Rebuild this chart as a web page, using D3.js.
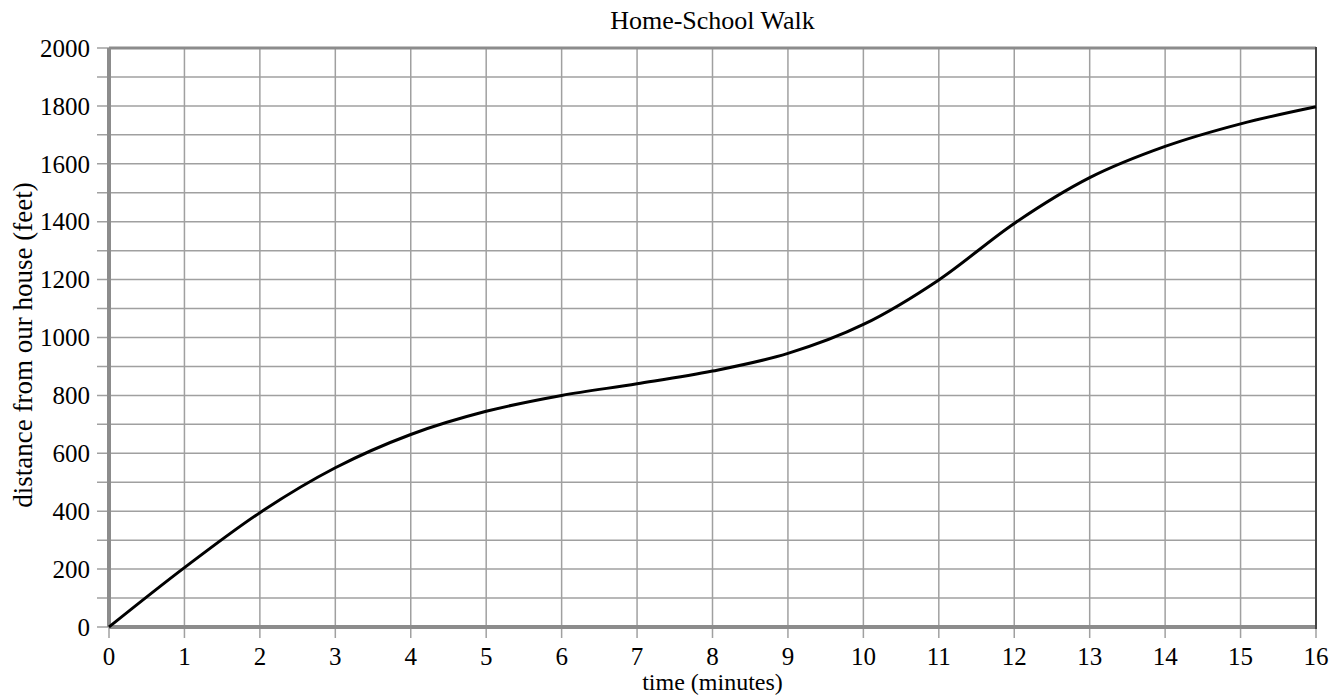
<!DOCTYPE html>
<html>
<head>
<meta charset="utf-8">
<script src="https://cdn.jsdelivr.net/npm/d3@7"></script>
<style>
  body { margin: 0; background: #fff; }
  svg { display: block; font-family: "Liberation Serif", "Times New Roman", serif; }
</style>
</head>
<body>
<svg width="1332" height="697"></svg>
<script>
// readings, one per minute
var minutes = [0, 1, 2, 3, 4, 5, 6, 7, 8, 9, 10, 11, 12, 13, 14, 15, 16];
var feet = [0, 205, 395, 550, 665, 745, 800, 840, 884, 945, 1045, 1199, 1394, 1552, 1660, 1738, 1797];
var xTicks = d3.range(0, 17, 1);
var yGrid = d3.range(0, 2001, 100);
var yLabels = d3.range(0, 2001, 200);

var svg = d3.select("svg"),
    margin = {top: 48, right: 16, bottom: 70, left: 109},
    width = svg.attr("width") - margin.left - margin.right,
    height = svg.attr("height") - margin.top - margin.bottom;

var x = d3.scaleLinear().domain([0, 16]).range([0, width]),
    y = d3.scaleLinear().domain([0, 2000]).range([height, 0]);

var g = svg.append("g")
  .attr("transform", "translate(" + margin.left + "," + margin.top + ")");

// grid lines, running a bit outside the frame as tick marks
g.append("g").selectAll("line").data(yGrid).enter().append("line")
  .attr("x1", -12).attr("x2", width)
  .attr("y1", function(d) { return y(d); }).attr("y2", function(d) { return y(d); })
  .attr("stroke", "#a0a0a0").attr("stroke-width", 1.5);

g.append("g").selectAll("line").data(xTicks).enter().append("line")
  .attr("y1", 0).attr("y2", height + 11)
  .attr("x1", function(d) { return x(d); }).attr("x2", function(d) { return x(d); })
  .attr("stroke", "#a0a0a0").attr("stroke-width", 1.5);

// frame
g.append("line").attr("x1", 0).attr("x2", width).attr("y1", 0).attr("y2", 0)
  .attr("stroke", "#8c8c8c").attr("stroke-width", 3);
g.append("line").attr("x1", 0).attr("x2", 0).attr("y1", 0).attr("y2", height)
  .attr("stroke", "#8c8c8c").attr("stroke-width", 4);
g.append("line").attr("x1", 0).attr("x2", width).attr("y1", height).attr("y2", height)
  .attr("stroke", "#8c8c8c").attr("stroke-width", 4);
g.append("line").attr("x1", width).attr("x2", width).attr("y1", -1).attr("y2", height + 2)
  .attr("stroke", "#444").attr("stroke-width", 2);

// tick labels
g.append("g").selectAll("text").data(yLabels).enter().append("text")
  .attr("x", -19).attr("y", function(d) { return y(d); })
  .attr("dy", "0.35em")
  .attr("text-anchor", "end")
  .style("font-size", "25px")
  .text(function(d) { return d; });

g.append("g").selectAll("text").data(xTicks).enter().append("text")
  .attr("x", function(d) { return x(d); }).attr("y", height + 38)
  .attr("text-anchor", "middle")
  .style("font-size", "25px")
  .text(function(d) { return d; });

// the walk
var line = d3.line()
  .x(function(d, i) { return x(minutes[i]); })
  .y(function(d) { return y(d); })
  .curve(d3.curveMonotoneX);

g.append("path")
  .datum(feet)
  .attr("fill", "none")
  .attr("stroke", "#000")
  .attr("stroke-width", 3)
  .attr("d", line);

// titles
svg.append("text")
  .attr("x", margin.left + width / 2).attr("y", 29)
  .attr("text-anchor", "middle")
  .style("font-size", "26px")
  .text("Home-School Walk");

svg.append("text")
  .attr("x", margin.left + width / 2).attr("y", 690)
  .attr("text-anchor", "middle")
  .style("font-size", "24px")
  .text("time (minutes)");

svg.append("text")
  .attr("transform", "translate(32,345) rotate(-90)")
  .attr("text-anchor", "middle")
  .style("font-size", "27px")
  .text("distance from our house (feet)");
</script>
</body>
</html>
